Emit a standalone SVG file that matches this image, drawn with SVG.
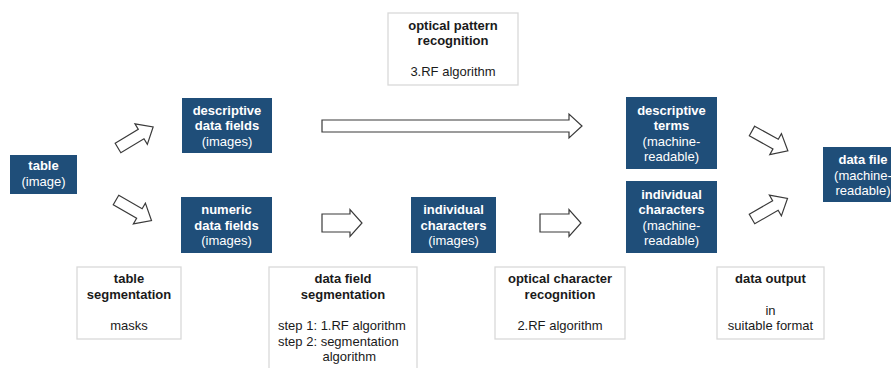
<svg xmlns="http://www.w3.org/2000/svg" width="891" height="368" viewBox="0 0 891 368">
<style>
.blue{fill:#1F4E79;}
.gray{fill:#ffffff;stroke:#d9d9d9;stroke-width:1.3;}
text{font-family:"Liberation Sans",Arial,sans-serif;font-size:13px;text-anchor:middle;}
.w{fill:#ffffff;}
.k{fill:#1a1a1a;}
.b{font-weight:bold;}
.arrow{fill:#ffffff;stroke:#3a3a3a;stroke-width:1.2;stroke-linejoin:miter;}
</style>
<defs>
<polygon id="diag" points="0,-5.5 27,-5.5 27,-12 41,0 27,12 27,5.5 0,5.5"/>
</defs>
<rect width="891" height="368" fill="#ffffff"/>

<g id="table">
<rect class="blue" x="10" y="155" width="67" height="39"/>
<text class="w b" x="43.5" y="170">table</text>
<text class="w" x="43.5" y="185.5">(image)</text>
</g>

<g id="descriptive-fields">
<rect class="blue" x="182" y="98" width="90" height="55"/>
<text class="w b" x="227" y="114.5">descriptive</text>
<text class="w b" x="227" y="130">data fields</text>
<text class="w" x="227" y="145.5">(images)</text>
</g>

<g id="numeric-fields">
<rect class="blue" x="181" y="197" width="91" height="56"/>
<text class="w b" x="226.5" y="214">numeric</text>
<text class="w b" x="226.5" y="229.5">data fields</text>
<text class="w" x="226.5" y="245">(images)</text>
</g>

<g id="individual-images">
<rect class="blue" x="411" y="197" width="85" height="56"/>
<text class="w b" x="453.5" y="214">individual</text>
<text class="w b" x="453.5" y="229.5">characters</text>
<text class="w" x="453.5" y="245">(images)</text>
</g>

<g id="descriptive-terms">
<rect class="blue" x="626" y="97" width="91" height="72"/>
<text class="w b" x="671.5" y="114.5">descriptive</text>
<text class="w b" x="671.5" y="130">terms</text>
<text class="w" x="671.5" y="145.5">(machine-</text>
<text class="w" x="671.5" y="161">readable)</text>
</g>

<g id="individual-machine">
<rect class="blue" x="626" y="181" width="91" height="72"/>
<text class="w b" x="671.5" y="198.5">individual</text>
<text class="w b" x="671.5" y="214">characters</text>
<text class="w" x="671.5" y="229.5">(machine-</text>
<text class="w" x="671.5" y="245">readable)</text>
</g>

<g id="data-file">
<rect class="blue" x="823" y="147" width="80" height="55"/>
<text class="w b" x="863" y="164">data file</text>
<text class="w" x="863" y="179.5">(machine-</text>
<text class="w" x="863" y="195">readable)</text>
</g>

<g id="optical-pattern">
<rect class="gray" x="388" y="13" width="130" height="72"/>
<text class="k b" x="453" y="29.5">optical pattern</text>
<text class="k b" x="453" y="45">recognition</text>
<text class="k" x="453" y="76">3.RF algorithm</text>
</g>

<g id="table-segmentation">
<rect class="gray" x="77" y="267" width="104" height="72"/>
<text class="k b" x="129" y="283">table</text>
<text class="k b" x="129" y="298.5">segmentation</text>
<text class="k" x="129" y="330">masks</text>
</g>

<g id="field-segmentation">
<rect class="gray" x="269" y="267" width="148" height="110"/>
<text class="k b" x="343" y="283">data field</text>
<text class="k b" x="343" y="298.5">segmentation</text>
<text class="k" x="278" y="330" style="text-anchor:start">step 1: 1.RF algorithm</text>
<text class="k" x="278" y="345.5" style="text-anchor:start">step 2: segmentation</text>
<text class="k" x="322.5" y="361" style="text-anchor:start">algorithm</text>
</g>

<g id="ocr">
<rect class="gray" x="495" y="267" width="130" height="72"/>
<text class="k b" x="560" y="283">optical character</text>
<text class="k b" x="560" y="298.5">recognition</text>
<text class="k" x="560" y="330">2.RF algorithm</text>
</g>

<g id="data-output">
<rect class="gray" x="717" y="267" width="107" height="72"/>
<text class="k b" x="770.5" y="283">data output</text>
<text class="k" x="770.5" y="314.5">in</text>
<text class="k" x="770.5" y="330">suitable format</text>
</g>

<g id="connectors">
<use href="#diag" class="arrow" transform="translate(118,148) rotate(-31)"/>
<use href="#diag" class="arrow" transform="translate(116,200) rotate(30)"/>
<polygon class="arrow" points="322,120 569,120 569,114 582,126 569,138 569,132 322,132"/>
<polygon class="arrow" points="322,214 350,214 350,209.5 362,223 350,236.5 350,232 322,232"/>
<polygon class="arrow" points="540,214 569,214 569,209.5 581,223 569,236.5 569,232 540,232"/>
<use href="#diag" class="arrow" transform="translate(752,131) rotate(29)"/>
<use href="#diag" class="arrow" transform="translate(752,219) rotate(-30)"/>
</g>
</svg>
